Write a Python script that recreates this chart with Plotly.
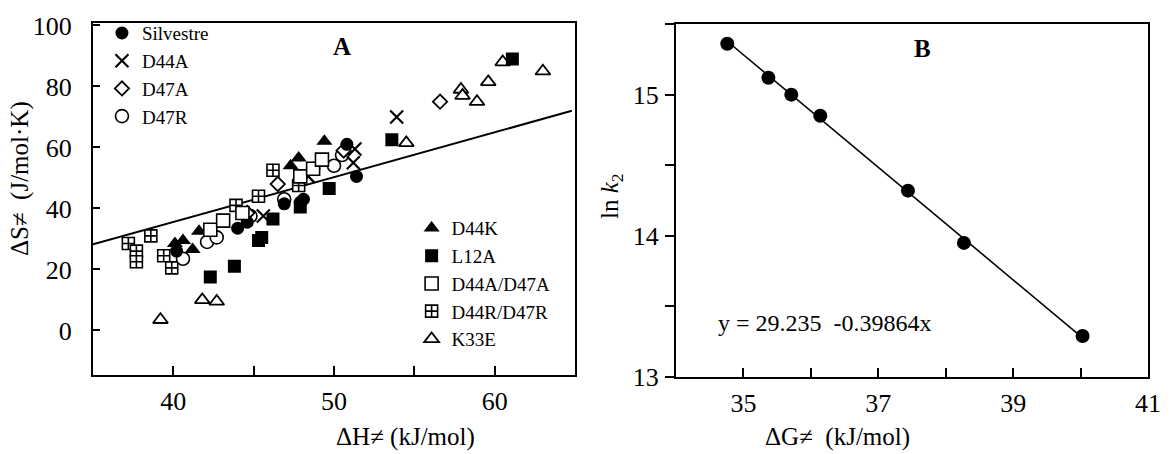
import plotly.graph_objects as go

FONT = "Liberation Serif"

# ---------------- Panel A data ----------------
silv_x = [40.2, 44.0, 44.6, 46.9, 47.9, 48.1, 50.8, 51.4]
silv_y = [26.0, 33.5, 35.5, 41.5, 42.0, 43.0, 61.0, 50.5]
d44a_x = [45.6, 48.4, 51.2, 51.3, 53.9]
d44a_y = [37.5, 50.5, 55.0, 59.5, 70.0]
d47a_x = [44.6, 46.5, 50.6, 56.6]
d47a_y = [38.5, 48.0, 59.0, 75.0]
d47r_x = [40.6, 42.1, 42.7, 44.8, 46.9, 48.7, 50.0, 50.5]
d47r_y = [23.5, 29.0, 30.5, 37.5, 43.0, 53.0, 54.0, 57.5]
d44k_x = [40.1, 40.6, 41.2, 41.6, 47.3, 47.8, 49.4]
d44k_y = [28.5, 29.5, 26.5, 32.5, 54.0, 56.5, 62.0]
l12a_x = [42.3, 43.8, 45.3, 45.5, 46.2, 47.9, 49.7, 53.6, 61.1]
l12a_y = [17.5, 21.0, 29.5, 30.5, 36.5, 40.5, 46.5, 62.5, 89.0]
dd_x = [42.3, 43.1, 44.3, 47.9, 48.7, 49.25]
dd_y = [33.0, 36.0, 38.5, 50.5, 53.0, 56.0]
rr_x = [37.2, 37.7, 37.7, 38.6, 39.4, 39.9, 43.9, 45.3, 46.2, 47.8]
rr_y = [28.5, 26.0, 22.5, 31.0, 24.5, 20.5, 41.0, 44.0, 52.5, 47.5]
k33e_x = [39.2, 41.8, 42.7, 54.5, 57.9, 58.0, 58.9, 59.6, 60.5, 63.0]
k33e_y = [3.5, 10.0, 9.5, 61.5, 79.0, 77.0, 75.0, 81.5, 88.0, 85.0]

fitA_slope = 1.47
fitA_intercept = -23.25
fitA_xrange = [35.0, 64.8]

# ---------------- Panel B data ----------------
dG = [34.76, 35.37, 35.71, 36.14, 37.44, 38.27, 40.03]
lnk2 = [15.36, 15.12, 15.00, 14.85, 14.32, 13.95, 13.29]
fitB_intercept = 29.235
fitB_slope = -0.39864

fig = go.Figure()

# fit line A
fig.add_trace(go.Scatter(
    x=fitA_xrange, y=[fitA_intercept + fitA_slope * v for v in fitA_xrange],
    mode="lines", line=dict(color="black", width=2), showlegend=False,
    xaxis="x", yaxis="y"))

def add(xs, ys, name, symbol, color, size, lw, legend):
    fig.add_trace(go.Scatter(
        x=xs, y=ys, mode="markers", name=name,
        marker=dict(symbol=symbol, color=color, size=size,
                    line=dict(color="black", width=lw)),
        xaxis="x", yaxis="y", legend=legend))

add(rr_x, rr_y, "D44R/D47R", "square-cross", "white", 12, 1.6, "legend2")
add(k33e_x, k33e_y, "K33E", "triangle-up", "white", 13, 1.8, "legend2")
add(d47r_x, d47r_y, "D47R", "circle", "white", 13, 1.6, "legend")
add(d47a_x, d47a_y, "D47A", "diamond", "white", 11, 1.8, "legend")
add(d44a_x, d44a_y, "D44A", "x-thin-open", "black", 13, 2.2, "legend")
add(silv_x, silv_y, "Silvestre", "circle", "black", 13, 0, "legend")
add(d44k_x, d44k_y, "D44K", "triangle-up", "black", 14, 0, "legend2")
add(l12a_x, l12a_y, "L12A", "square", "black", 13, 0, "legend2")
add(dd_x, dd_y, "D44A/D47A", "square", "white", 13, 1.6, "legend2")

ranks = {"Silvestre": 1, "D44A": 2, "D47A": 3, "D47R": 4,
         "D44K": 5, "L12A": 6, "D44A/D47A": 7, "D44R/D47R": 8, "K33E": 9}
for tr in fig.data:
    if tr.name in ranks:
        tr.legendrank = ranks[tr.name]

# Panel B
bx = [min(dG), max(dG)]
fig.add_trace(go.Scatter(
    x=bx, y=[fitB_intercept + fitB_slope * v for v in bx],
    mode="lines", line=dict(color="black", width=1.6), showlegend=False,
    xaxis="x2", yaxis="y2"))
fig.add_trace(go.Scatter(
    x=dG, y=lnk2, mode="markers", showlegend=False,
    marker=dict(symbol="circle", color="black", size=14),
    xaxis="x2", yaxis="y2"))

tickfont = dict(family=FONT, size=26, color="black")
axis_common = dict(showline=True, mirror=True, linecolor="black", linewidth=2,
                   showgrid=False, zeroline=False, tickfont=tickfont,
                   tickcolor="black")

fig.update_layout(
    width=1174, height=454,
    margin=dict(l=93, r=26, t=14, b=77),
    paper_bgcolor="white", plot_bgcolor="white",
    font=dict(family=FONT, color="black"),
    xaxis=dict(domain=[0, 0.4569], range=[35, 65], dtick=10, tick0=40,
               ticks="inside", ticklen=9, tickwidth=1.5, ticklabelstandoff=2,
               minor=dict(dtick=5, ticks="inside", ticklen=9, tickwidth=1.5, tickcolor="black"),
               **axis_common),
    yaxis=dict(domain=[0.005, 1], range=[-14.7, 100.8], dtick=20, tick0=0,
               ticks="inside", ticklen=7, tickwidth=1.5, ticklabelstandoff=14,
               **axis_common),
    xaxis2=dict(domain=[0.5526, 1], range=[34, 41], dtick=2, tick0=35,
                ticks="inside", ticklen=9, tickwidth=1.5, anchor="y2", ticklabelstandoff=2,
                minor=dict(dtick=1, ticks="inside", ticklen=9, tickwidth=1.5, tickcolor="black"),
                **axis_common),
    yaxis2=dict(domain=[0, 0.997], range=[13, 15.5], dtick=1, tick0=13,
                ticks="outside", ticklen=9, tickwidth=1.5, anchor="x2", ticklabelstandoff=1,
                minor=dict(dtick=0.5, ticks="outside", ticklen=9, tickwidth=1.5, tickcolor="black"),
                **axis_common),
    legend=dict(x=0.0085, y=1.025, xanchor="left", yanchor="top",
                bgcolor="rgba(0,0,0,0)", borderwidth=0,
                font=dict(family=FONT, size=19, color="black"),
                tracegroupgap=0, itemwidth=30),
    legend2=dict(x=0.302, y=0.474, xanchor="left", yanchor="top",
                 bgcolor="rgba(0,0,0,0)", borderwidth=0,
                 font=dict(family=FONT, size=19, color="black"),
                 tracegroupgap=0, itemwidth=30),
    annotations=[
        dict(text="<b>A</b>", x=50.5, y=93, xref="x", yref="y", showarrow=False,
             font=dict(family=FONT, size=25, color="black")),
        dict(text="<b>B</b>", x=37.65, y=15.33, xref="x2", yref="y2", showarrow=False,
             font=dict(family=FONT, size=25, color="black")),
        dict(text="y = 29.235  -0.39864x", x=34.6, y=13.38, xref="x2", yref="y2",
             xanchor="left", showarrow=False,
             font=dict(family=FONT, size=24, color="black")),
        dict(text="ΔH≠ (kJ/mol)", x=0.2285, y=-0.17, xref="paper", yref="paper",
             yanchor="middle", showarrow=False,
             font=dict(family=FONT, size=25, color="black")),
        dict(text="ΔG≠  (kJ/mol)", x=0.7763, y=-0.17, xref="paper", yref="paper",
             yanchor="middle", showarrow=False,
             font=dict(family=FONT, size=25, color="black")),
        dict(text="ΔS≠  (J/mol·K)", x=-0.085, y=0.56, xref="paper", yref="paper",
             textangle=-90, showarrow=False,
             font=dict(family=FONT, size=25, color="black")),
        dict(text="ln <i>k</i><sub>2</sub>", x=0.4915, y=0.51, xref="paper", yref="paper",
             textangle=-90, showarrow=False,
             font=dict(family=FONT, size=25, color="black")),
    ],
)

fig.write_html("out.html")
